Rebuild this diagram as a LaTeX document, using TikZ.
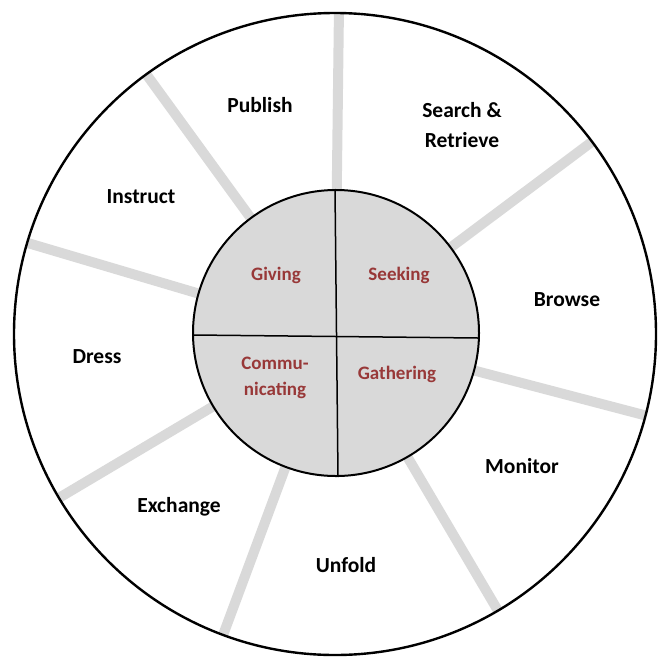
\documentclass[tikz,border=0pt]{standalone}
\usepackage{fontspec}
\setmainfont{Carlito}
\definecolor{spokegray}{RGB}{217,217,217}
\definecolor{innerfill}{RGB}{217,217,217}
\definecolor{innerred}{RGB}{152,56,56}
\tikzset{
  spoke/.style={draw=spokegray, line width=10pt},
  outerlabel/.style={font=\bfseries\fontsize{21.5}{30}\selectfont, text=black, align=center, inner sep=0pt},
  innerlabel/.style={font=\bfseries\fontsize{19}{26}\selectfont, text=innerred, align=center, inner sep=0pt},
  ring/.style={draw=black, line width=2.4pt},
  hub/.style={circle, draw=black, line width=2pt, fill=innerfill, minimum size=286pt, inner sep=0pt},
  cross/.style={draw=black, line width=1.5pt}
}
\begin{document}
\begin{tikzpicture}[x=1pt, y=-1pt]
\useasboundingbox (0,0) rectangle (660,656);
\coordinate (C) at (335,334);
% spokes
\begin{scope}[shift={(335,334)}]
\foreach \a in {89.3,126,163.5,210.7,249.6,300.5,345.3,36.8}{
  \draw[spoke] (-\a:130) -- (-\a:320);
}
\end{scope}
% hub
\node[hub] (hub) at (336,333) {};
\draw[cross] (335,189) -- (338,477);
\draw[cross] (194,335) -- (478,338);
% outer ring
\draw[ring] (C) circle[radius=321];
% outer labels
\node[outerlabel] (publish) at (260,105) {Publish};
\node[outerlabel] (search) at (462,125) {Search \&\\Retrieve};
\node[outerlabel] (instruct) at (141,197) {Instruct};
\node[outerlabel] (browse) at (567,300) {Browse};
\node[outerlabel] (dress) at (97,357) {Dress};
\node[outerlabel] (monitor) at (522,466) {Monitor};
\node[outerlabel] (exchange) at (179,507) {Exchange};
\node[outerlabel] (unfold) at (346,565) {Unfold};
% inner labels
\node[innerlabel] (giving) at (276,275) {Giving};
\node[innerlabel] (seeking) at (399,275) {Seeking};
\node[innerlabel] (comm) at (275,378) {Commu-\\nicating};
\node[innerlabel] (gathering) at (397,374) {Gathering};
\end{tikzpicture}
\end{document}
